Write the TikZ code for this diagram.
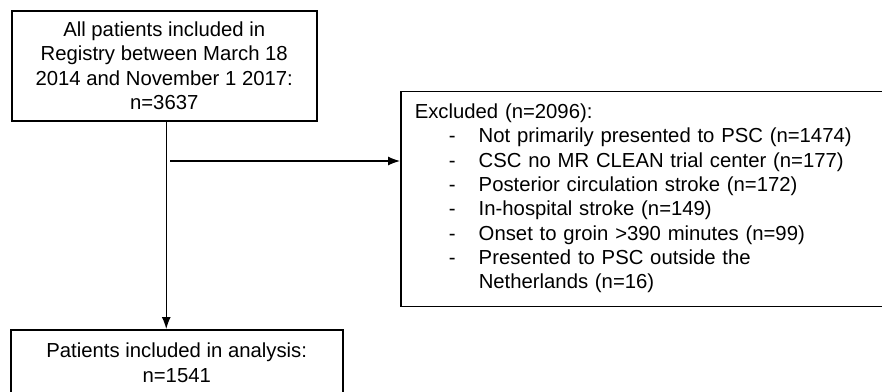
\documentclass[tikz,border=0pt]{standalone}
\usepackage{fontspec}
\setmainfont{Liberation Sans}
\usetikzlibrary{arrows.meta,calc}

\begin{document}
\begin{tikzpicture}[x=1pt,y=-1pt,
        every node/.style={font=\fontsize{20.3}{24.3}\selectfont},
        box/.style={draw, line width=1.5pt, inner sep=0pt},
        arr/.style={line width=1.2pt, -{Latex[length=12pt,width=9pt]}}]

        \useasboundingbox (0,0) rectangle (882,391);

        % Registry
        \node[box, minimum width=305pt, minimum height=110pt, anchor=north west, align=center] (all) at (11,10)
            {All patients included in\\Registry between March 18\\2014 and November 1 2017:\\n=3637};

        % Excluded
        \node[box, minimum height=215pt, text width=456pt, inner xsep=14pt, align=left, anchor=north west] (excl) at (400,90.5)
            {\begin{tabular}{@{}p{64pt}@{}l@{}}
                \multicolumn{2}{@{}l@{}}{Excluded (n=2096):}\\
                \hspace*{34pt}- & Not primarily presented to PSC (n=1474)\\
                \hspace*{34pt}- & CSC no MR CLEAN trial center (n=177)\\
                \hspace*{34pt}- & Posterior circulation stroke (n=172)\\
                \hspace*{34pt}- & In-hospital stroke (n=149)\\
                \hspace*{34pt}- & Onset to groin >390 minutes (n=99)\\
                \hspace*{34pt}- & Presented to PSC outside the\\
                                & Netherlands (n=16)
            \end{tabular}};

        % Analysis
        \node[box, minimum width=332pt, minimum height=66pt, anchor=north west, align=center] (incl) at (10,329)
            {Patients included in analysis:\\n=1541};

        \draw[arr] ($(all.south)+(2,0)$) coordinate (a1) -- (a1 |- incl.north);
        \coordinate (br) at (170,161);
        \draw[arr] (br) -- (br -| excl.west);

    \end{tikzpicture}
\end{document}
